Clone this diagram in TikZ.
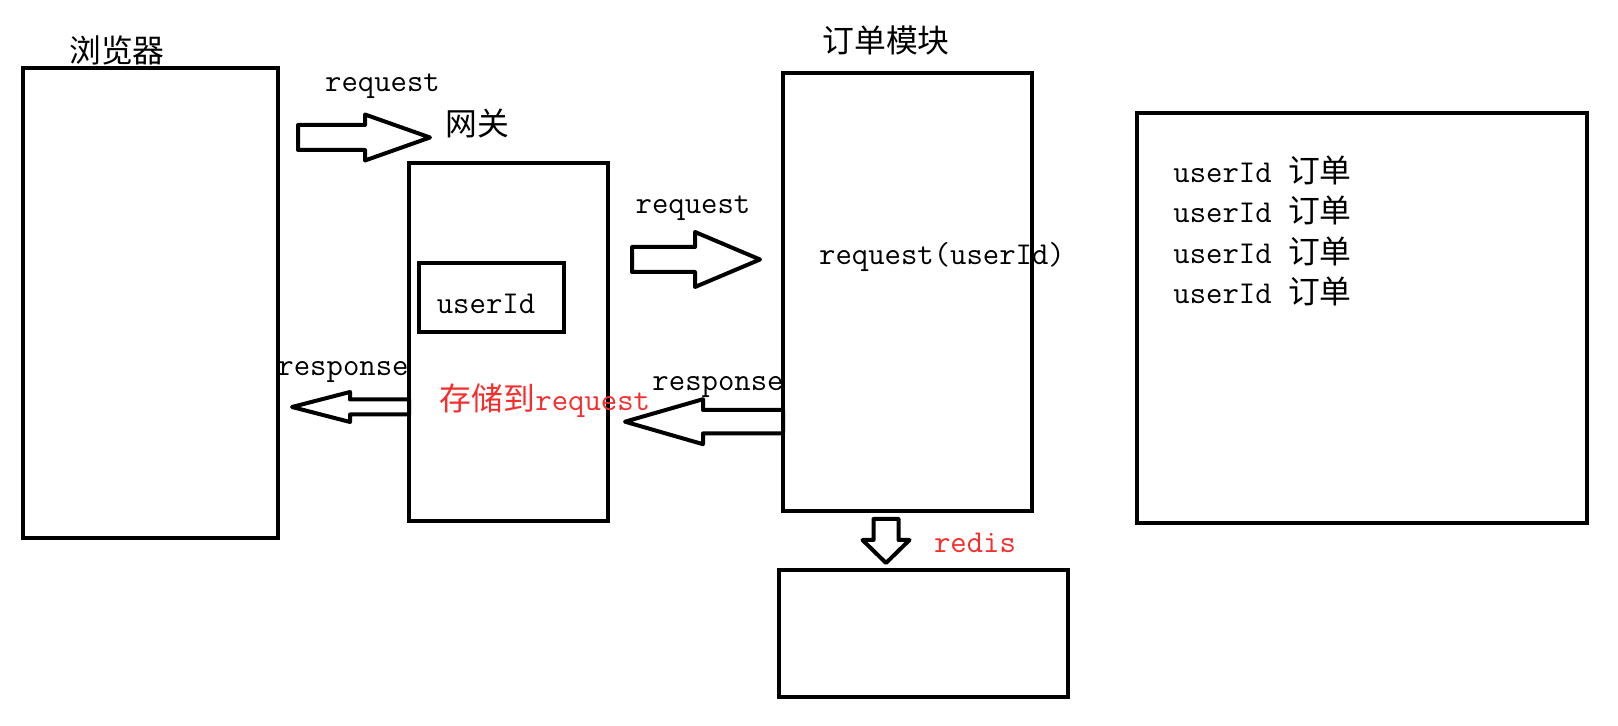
\documentclass[tikz,border=0pt]{standalone}
\usepackage{fontspec}
\newfontfamily\cjk{Noto Sans CJK SC}
\usetikzlibrary{fit}
\definecolor{notered}{RGB}{245,45,45}
\tikzset{
	box/.style={draw, line width=2pt, inner sep=0pt},
	lbl/.style={font=\fontsize{15.9}{19}\selectfont\ttfamily, inner sep=0pt},
	hanzi/.style={font=\fontsize{15.9}{19}\selectfont\cjk, inner sep=0pt},
	pics/fatarrow/.style n args={4}{code={
		\draw[line width=2pt, line join=round] (0,-#3)--(#2,-#3)--(#2,-#4)--(#1,0)--(#2,#4)--(#2,#3)--(0,#3)--cycle;}},
}
\begin{document}
\begin{tikzpicture}[x=0.5pt, y=-0.5pt]
	\useasboundingbox (0,0) rectangle (1618,726);
	% boxes
	\node[box, fit={(23,68) (278,538)}] (browser) {};
	\node[box, fit={(409,163) (608,521)}] (gateway) {};
	\node[box, fit={(419,263) (564,332)}] (uid) {};
	\node[box, fit={(783,73) (1032,511)}] (order) {};
	\node[box, fit={(779,570) (1068,697)}] (redis) {};
	\node[box, fit={(1137,113) (1587,523)}] (store) {};
	% titles
	\node[hanzi] (browsertitle) at (117,50) {浏览器};
	\node[hanzi] (gatewaytitle) at (477,123) {网关};
	\node[hanzi] (ordertitle) at (886,40) {订单模块};
	% arrows
	\pic at (298,137.5) {fatarrow={132}{67}{12.5}{23}};
	\pic at (632,259.5) {fatarrow={128}{63}{12.5}{27.5}};
	\pic[rotate=180] at (409,407) {fatarrow={117}{59}{7.5}{15}};
	\pic[rotate=180] at (783,421.7) {fatarrow={158}{80}{11.7}{22.5}};
	\pic[rotate=-90] at (886,519) {fatarrow={44}{21}{12.5}{23.5}};
	% labels
	\node[lbl] (req1) at (382.5,86) {request};
	\node[lbl] (req2) at (693,208) {request};
	\node[lbl] (reqid) at (942,257) {request(userId)};
	\node[lbl] (uidtext) at (486,304) {userId};
	\node[lbl] (resp1) at (343,372) {response};
	\node[lbl] (resp2) at (718,387) {response};
	\node[lbl, text=notered] (saved) at (545,401) {{\cjk 存储到}request};
	\node[lbl, text=notered] (redistext) at (975,543) {redis};
	\foreach \i in {0,...,3}
		\node[lbl, anchor=west] (row\i) at (1173,{170+40.6*\i}) {userId {\cjk 订单}};
\end{tikzpicture}
\end{document}
